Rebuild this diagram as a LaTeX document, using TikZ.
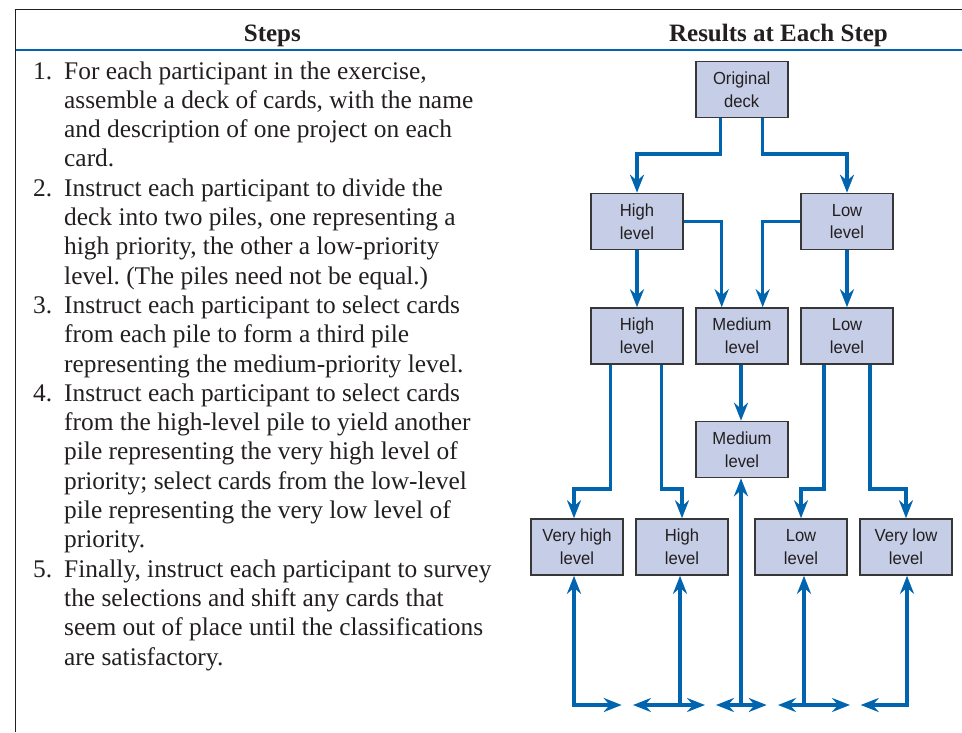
\documentclass[tikz,border=0pt]{standalone}
\usepackage{fontspec}
\setmainfont{Liberation Serif}
\newfontfamily\boxfont[FakeStretch=0.95]{Liberation Sans}
\usetikzlibrary{arrows.meta}
\definecolor{flowblue}{RGB}{0,100,175}
\definecolor{boxfill}{RGB}{197,206,230}
\definecolor{boxline}{RGB}{55,55,55}
\definecolor{ink}{RGB}{35,31,32}
\newcommand{\stepno}[1]{\makebox[31pt][l]{#1}}
\frenchspacing
\begin{document}
\begin{tikzpicture}[x=1pt,y=-1pt,
  pile/.style={draw=boxline,line width=1.6pt,fill=boxfill,
    minimum width=92pt,minimum height=56pt,inner sep=0pt,align=center,
    text=ink,font=\boxfont\fontsize{17.5}{22.6}\selectfont},
  tipshape/.tip={Stealth[length=18pt,width=14pt,inset=6pt]},
  link/.style={draw=flowblue,line width=3.1pt,-tipshape},
  linkboth/.style={draw=flowblue,line width=3.1pt,tipshape-tipshape},
  heading/.style={anchor=base,text=ink,font=\bfseries\fontsize{25}{30}\selectfont}]
\useasboundingbox (0,0) rectangle (962,732);

% frame and header rule
\draw[ink,line width=1.4pt] (962,9.3) -- (15.7,9.3) -- (15.7,732);
\draw[flowblue,line width=2pt] (15.7,49.5) -- (962,49.5);

\node[heading] (hsteps) at (272.4,41) {Steps};
\node[heading] (hresults) at (778.5,41) {Results at Each Step};

% list of steps
\node[anchor=base west,inner sep=0pt,text=ink,
      font=\fontsize{25.4}{29.3}\selectfont] (steps) at (33,79) {%
\begin{tabular}[t]{@{}l@{}l@{}}
\stepno{1.} & For each participant in the exercise,\\
 & assemble a deck of cards, with the name\\
 & and description of one project on each\\
 & card.\\
\stepno{2.} & Instruct each participant to divide the\\
 & deck into two piles, one representing a\\
 & high priority, the other a low-priority\\
 & level. (The piles need not be equal.)\\
\stepno{3.} & Instruct each participant to select cards\\
 & from each pile to form a third pile\\
 & representing the medium-priority level.\\
\stepno{4.} & Instruct each participant to select cards\\
 & from the high-level pile to yield another\\
 & pile representing the very high level of\\
 & priority; select cards from the low-level\\
 & pile representing the very low level of\\
 & priority.\\
\stepno{5.} & Finally, instruct each participant to survey\\
 & the selections and shift any cards that\\
 & seem out of place until the classifications\\
 & are satisfactory.
\end{tabular}};

% piles
\node[pile] (orig) at (741.7,89.5) {Original\\deck};
\node[pile] (h2) at (637,221.5) {High\\level};
\node[pile] (l2) at (847,221.5) {Low\\level};
\node[pile] (h3) at (637,336) {High\\level};
\node[pile] (m3) at (742,336) {Medium\\level};
\node[pile] (l3) at (847,336) {Low\\level};
\node[pile] (m4) at (742,449.5) {Medium\\level};
\node[pile] (vh) at (577,547) {Very high\\level};
\node[pile] (h5) at (682,547) {High\\level};
\node[pile] (l5) at (801,547) {Low\\level};
\node[pile] (vl) at (906,547) {Very low\\level};

% levels of the elbows
\coordinate (forkA) at (0,154);
\coordinate (forkB) at (0,489);
\coordinate (base) at (0,705);

% first split
\draw[link] ([xshift=-21pt]orig.south) |- (h2.north |- forkA) -- (h2.north);
\draw[link] ([xshift=20.5pt]orig.south) |- (l2.north |- forkA) -- (l2.north);

% second step
\draw[link] (h2) -- (h3);
\draw[link] (l2) -- (l3);
\draw[link] (h2.east) -| ([xshift=-20.3pt]m3.north);
\draw[link] (l2.west) -| ([xshift=20.7pt]m3.north);
\draw[link] ([xshift=-1pt]m3.south) -- ([xshift=-1pt]m4.north);

% third split
\draw[link] ([xshift=-26.3pt]h3.south) |- ([xshift=-3pt]vh.north |- forkB) -- ([xshift=-3pt]vh.north);
\draw[link] ([xshift=24.7pt]h3.south) |- (h5.north |- forkB) -- (h5.north);
\draw[link] ([xshift=-23pt]l3.south) |- (l5.north |- forkB) -- (l5.north);
\draw[link] ([xshift=23pt]l3.south) |- (vl.north |- forkB) -- (vl.north);

% shifting cards between neighbouring piles
\coordinate (t1) at (621.7,705);
\coordinate (t2) at (633,705);
\coordinate (t3) at (705,705);
\coordinate (t4) at (716,705);
\coordinate (t5) at (766.7,705);
\coordinate (t6) at (778,705);
\coordinate (t7) at (850,705);
\coordinate (t8) at (860.7,705);

\draw[linkboth] (t1) -- ([xshift=-3pt]vh.south |- base) -- ([xshift=-3pt]vh.south);
\draw[link] ([xshift=-2pt]h5.south |- base) -- ([xshift=-2pt]h5.south);
\draw[linkboth] (t2) -- (t3);
\draw[link] ([xshift=-1pt]m4.south |- base) -- ([xshift=-1pt]m4.south);
\draw[linkboth] (t4) -- (t5);
\draw[link] ([xshift=3pt]l5.south |- base) -- ([xshift=3pt]l5.south);
\draw[linkboth] (t6) -- (t7);
\draw[linkboth] (t8) -- ([xshift=1pt]vl.south |- base) -- ([xshift=1pt]vl.south);
\end{tikzpicture}
\end{document}
